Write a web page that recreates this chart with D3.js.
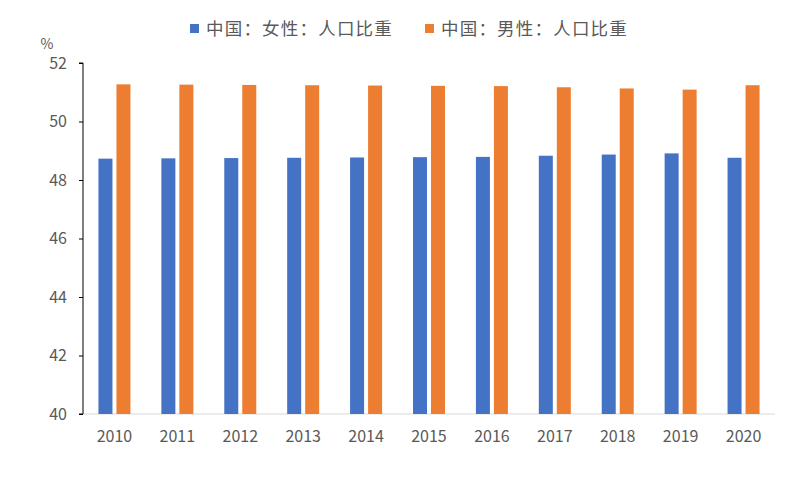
<!DOCTYPE html>
<html><head><meta charset="utf-8">
<script src="https://cdn.jsdelivr.net/npm/d3@7"></script>
<style>body{margin:0;background:#fff}svg{display:block}</style>
</head><body>
<svg id="c" width="809" height="491"></svg>
<script>
const years = ["2010","2011","2012","2013","2014","2015","2016","2017","2018","2019","2020"];
const female = [48.73,48.74,48.75,48.76,48.77,48.78,48.79,48.83,48.87,48.91,48.76];
const male = [51.27,51.26,51.25,51.24,51.23,51.22,51.21,51.17,51.13,51.09,51.24];
const seriesNames = ["中国：女性：人口比重","中国：男性：人口比重"];
const colors = ["#4472C4","#ED7D31"];
const yTicks = [40,42,44,46,48,50,52];

const svg = d3.select("#c");
const L = 83, R = 775, T = 63, B = 414;
const x = d3.scaleBand().domain(years).range([L, R]).paddingInner(0).paddingOuter(0);
const y = d3.scaleLinear().domain([40, 52]).range([B, T]);
const font = "'Noto Sans CJK SC','Microsoft YaHei',sans-serif";
const txt = "#595959";

svg.append("line").attr("x1", L).attr("x2", R).attr("y1", B).attr("y2", B)
  .attr("stroke", "#D9D9D9").attr("stroke-width", 1);

const bw = 14, gap = 4;
const data = [female, male];
data.forEach((vals, si) => {
  svg.append("g").selectAll("rect").data(years).join("rect")
    .attr("x", d => x(d) + x.bandwidth()/2 - (bw*2+gap)/2 + si*(bw+gap))
    .attr("width", bw)
    .attr("y", (d,i) => y(vals[i]))
    .attr("height", (d,i) => y(40) - y(vals[i]))
    .attr("fill", colors[si]);
});

const yAxis = d3.axisLeft(y).tickValues(yTicks).tickSize(4).tickPadding(12).tickFormat(d3.format("d"));
const ga = svg.append("g").attr("transform", `translate(${L},0)`).call(yAxis);
ga.select(".domain").attr("stroke", "#000").attr("d", `M-4,${T}H0V${B}H-4`);
ga.selectAll(".tick line").attr("stroke", "#000");
ga.selectAll(".tick text").attr("fill", txt).style("font-family", font).style("font-size", "16px");

const xAxis = d3.axisBottom(x).tickSize(0).tickPadding(17);
const gx = svg.append("g").attr("transform", `translate(0,${B})`).call(xAxis);
gx.select(".domain").remove();
gx.selectAll(".tick text").attr("fill", txt).style("font-family", font).style("font-size", "16px");

svg.append("text").attr("x", 47).attr("y", 49).attr("text-anchor", "middle")
  .attr("fill", txt).style("font-family", font).style("font-size", "14px").text("%");

const legX = [190, 425];
seriesNames.forEach((n, i) => {
  svg.append("rect").attr("x", legX[i]).attr("y", 24).attr("width", 9).attr("height", 9).attr("fill", colors[i]);
  svg.append("text").attr("x", legX[i] + 16).attr("y", 35).attr("fill", txt)
    .style("font-family", font).style("font-size", "17.5px").style("letter-spacing", "1.2px").text(n);
});
</script>
</body></html>
